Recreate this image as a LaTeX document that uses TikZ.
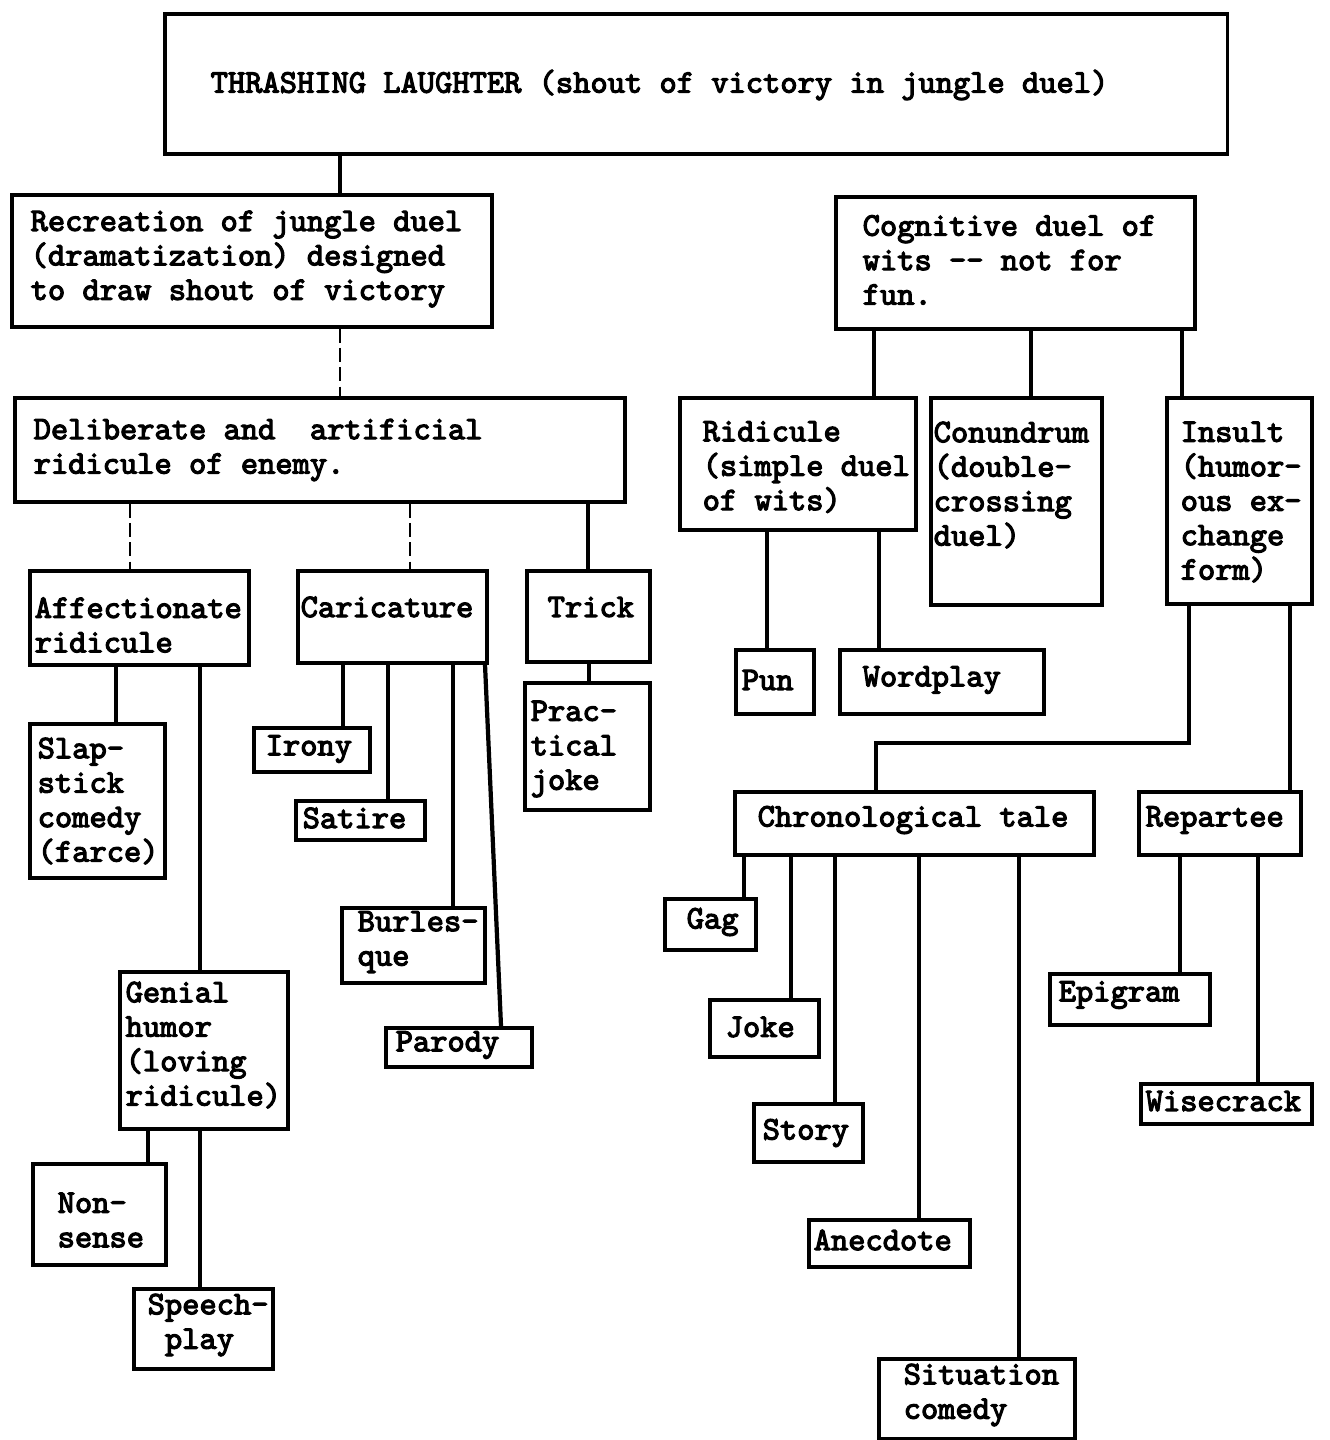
\documentclass[tikz,border=0pt]{standalone}
\usepackage{fontspec}
\newfontfamily\typer{lmmono10-regular.otf}[FakeBold=3.5]
\usetikzlibrary{positioning,calc}

\tikzset{
  box/.style={draw, line width=1pt, anchor=north west, inner sep=0pt},
  txt/.style={anchor=west, inner sep=0pt, align=left,
    font=\typer\fontsize{9.35}{9.8}\selectfont},
  link/.style={line width=1.2pt},
  faint/.style={line width=0.6pt, dash pattern=on 4pt off 1.5pt}
}

\begin{document}
\begin{tikzpicture}[x=0.01cm, y=-0.01cm]

\useasboundingbox (0,0) rectangle (1329,1440);

%Boxes, left column
\node[box, minimum width=10.62cm, minimum height=1.40cm] (top) at (163,12) {};
\node[box, minimum width=4.80cm, minimum height=1.32cm] (rec) at (10,193) {};
\node[box, minimum width=6.10cm, minimum height=1.04cm] (del) at (13,396) {};
\node[box, minimum width=2.19cm, minimum height=0.94cm] (aff) at (28,569) {};
\node[box, minimum width=1.89cm, minimum height=0.92cm] (car) at (296,569) {};
\node[box, minimum width=1.23cm, minimum height=0.91cm] (tri) at (525,569) {};
\node[box, minimum width=1.35cm, minimum height=1.54cm] (sla) at (28,722) {};
\node[box, minimum width=1.16cm, minimum height=0.44cm] (iro) at (252,726) {};
\node[box, minimum width=1.29cm, minimum height=0.39cm] (sat) at (294,799) {};
\node[box, minimum width=1.25cm, minimum height=1.27cm] (pra) at (523,681) {};
\node[box, minimum width=1.43cm, minimum height=0.75cm] (bur) at (340,906) {};
\node[box, minimum width=1.46cm, minimum height=0.39cm] (par) at (384,1026) {};
\node[box, minimum width=1.68cm, minimum height=1.57cm] (gen) at (118,970) {};
\node[box, minimum width=1.33cm, minimum height=1.01cm] (non) at (31,1162) {};
\node[box, minimum width=1.39cm, minimum height=0.80cm] (spe) at (132,1287) {};

%Boxes, right column
\node[box, minimum width=3.59cm, minimum height=1.32cm] (cog) at (834,195) {};
\node[box, minimum width=2.36cm, minimum height=1.32cm] (rid) at (678,396) {};
\node[box, minimum width=1.71cm, minimum height=2.07cm] (con) at (929,396) {};
\node[box, minimum width=1.45cm, minimum height=2.06cm] (ins) at (1165,396) {};
\node[box, minimum width=0.78cm, minimum height=0.64cm] (pun) at (734,648) {};
\node[box, minimum width=2.04cm, minimum height=0.64cm] (wor) at (838,648) {};
\node[box, minimum width=3.59cm, minimum height=0.63cm] (chr) at (733,790) {};
\node[box, minimum width=1.62cm, minimum height=0.63cm] (rep) at (1137,790) {};
\node[box, minimum width=0.91cm, minimum height=0.51cm] (gag) at (663,897) {};
\node[box, minimum width=1.09cm, minimum height=0.57cm] (jok) at (708,998) {};
\node[box, minimum width=1.09cm, minimum height=0.58cm] (sto) at (752,1102) {};
\node[box, minimum width=1.61cm, minimum height=0.47cm] (ane) at (807,1218) {};
\node[box, minimum width=1.96cm, minimum height=0.80cm] (sit) at (877,1357) {};
\node[box, minimum width=1.60cm, minimum height=0.51cm] (epi) at (1048,972) {};
\node[box, minimum width=1.71cm, minimum height=0.40cm] (wis) at (1139,1082) {};

%Texts
\node[txt] (topT) at (210,85) {THRASHING LAUGHTER (shout of victory in jungle duel)};
\node[txt] (recT) at (30,259) {Recreation of jungle duel\\(dramatization) designed\\to draw shout of victory};
\node[txt] (delT) at (33,450) {Deliberate and~ artificial\\ridicule of enemy.};
\node[txt] (affT) at (34,625) {Affectionate\\ridicule};
\node[txt] (carT) at (300,607) {Caricature};
\node[txt] (triT) at (547,607) {Trick};
\node[txt] (slaT) at (37,801) {Slap-\\stick\\comedy\\(farce)};
\node[txt] (iroT) at (265,749) {Irony};
\node[txt] (satT) at (302,818) {Satire};
\node[txt] (praT) at (530,749) {Prac-\\tical\\joke};
\node[txt] (burT) at (357,942) {Burles-\\que};
\node[txt] (parT) at (395,1045) {Parody};
\node[txt] (genT) at (125,1045) {Genial\\humor\\(loving\\ridicule)};
\node[txt] (nonT) at (57,1220) {Non-\\sense};
\node[txt] (speT) at (147,1325) {Speech-\\~play};
\node[txt] (cogT) at (862,260) {Cognitive duel of\\wits -{}- not for\\fun.};
\node[txt] (ridT) at (702,467) {Ridicule\\(simple duel\\of wits)};
\node[txt] (conT) at (933,485) {Conundrum\\(double-\\crossing\\duel)};
\node[txt] (insT) at (1180,502) {Insult\\(humor-\\ous ex-\\change\\form)};
\node[txt] (punT) at (741,680) {Pun};
\node[txt] (worT) at (862,680) {Wordplay};
\node[txt] (chrT) at (757,820) {Chronological tale};
\node[txt] (repT) at (1145,820) {Repartee};
\node[txt] (gagT) at (686,922) {Gag};
\node[txt] (jokT) at (725,1027) {Joke};
\node[txt] (stoT) at (762,1133) {Story};
\node[txt] (aneT) at (813,1240) {Anecdote};
\node[txt] (sitT) at (903,1395) {Situation\\comedy};
\node[txt] (epiT) at (1058,995) {Epigram};
\node[txt] (wisT) at (1145,1101) {Wisecrack};

%Connectors, left column
\draw[link] (340,0 |- top.south) -- (340,0 |- rec.north);
\draw[faint] (340,0 |- rec.south) -- (340,0 |- del.north);
\draw[faint] (130,0 |- del.south) -- (130,0 |- aff.north);
\draw[faint] (410,0 |- del.south) -- (410,0 |- car.north);
\draw[link] (588,0 |- del.south) -- (588,0 |- tri.north);
\draw[link] (116,0 |- aff.south) -- (116,0 |- sla.north);
\draw[link] (200,0 |- aff.south) -- (200,0 |- gen.north);
\draw[link] (343,0 |- car.south) -- (343,0 |- iro.north);
\draw[link] (388,0 |- car.south) -- (388,0 |- sat.north);
\draw[link] (453,0 |- car.south) -- (453,0 |- bur.north);
\draw[link] (485,0 |- car.south) -- (501,0 |- par.north);
\draw[link] (589,0 |- tri.south) -- (589,0 |- pra.north);
\draw[link] (148,0 |- gen.south) -- (148,0 |- non.north);
\draw[link] (200,0 |- gen.south) -- (200,0 |- spe.north);

%Connectors, right column
\coordinate (bend) at (876,743);
\draw[link] (874,0 |- cog.south) -- (874,0 |- rid.north);
\draw[link] (1031,0 |- cog.south) -- (1031,0 |- con.north);
\draw[link] (1182,0 |- cog.south) -- (1182,0 |- ins.north);
\draw[link] (767,0 |- rid.south) -- (767,0 |- pun.north);
\draw[link] (879,0 |- rid.south) -- (879,0 |- wor.north);
\draw[link] (1189,0 |- ins.south) |- (bend) -- (bend |- chr.north);
\draw[link] (1290,0 |- ins.south) -- (1290,0 |- rep.north);
\draw[link] (744,0 |- chr.south) -- (744,0 |- gag.north);
\draw[link] (791,0 |- chr.south) -- (791,0 |- jok.north);
\draw[link] (835,0 |- chr.south) -- (835,0 |- sto.north);
\draw[link] (919,0 |- chr.south) -- (919,0 |- ane.north);
\draw[link] (1019,0 |- chr.south) -- (1019,0 |- sit.north);
\draw[link] (1180,0 |- rep.south) -- (1180,0 |- epi.north);
\draw[link] (1258,0 |- rep.south) -- (1258,0 |- wis.north);

\end{tikzpicture}
\end{document}
